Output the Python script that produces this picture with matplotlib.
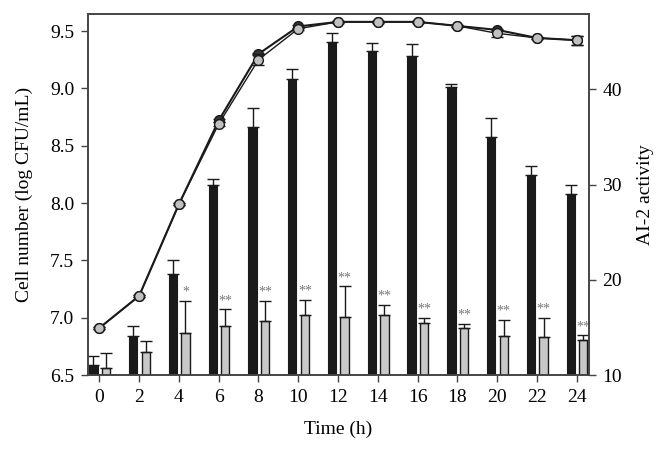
import matplotlib
matplotlib.use("Agg")
import matplotlib.pyplot as plt
import numpy as np

plt.rcParams["font.family"] = ["Liberation Serif", "DejaVu Serif"]

time_h = [0, 2, 4, 6, 8, 10, 12, 14, 16, 18, 20, 22, 24]

# cell numbers (log CFU/mL), two strains
cells_a = [6.91, 7.19, 7.99, 8.72, 9.30, 9.54, 9.58, 9.58, 9.58, 9.545, 9.51, 9.44, 9.42]
cells_a_err = [0.01, 0.01, 0.01, 0.01, 0.01, 0.01, 0.01, 0.01, 0.01, 0.01, 0.01, 0.01, 0.04]
cells_b = [6.91, 7.19, 7.99, 8.69, 9.25, 9.52, 9.58, 9.58, 9.58, 9.545, 9.48, 9.44, 9.42]
cells_b_err = [0.01, 0.01, 0.01, 0.02, 0.05, 0.01, 0.01, 0.01, 0.01, 0.01, 0.03, 0.01, 0.04]

# AI-2 activity
ai2_a = [11.0, 14.1, 20.6, 30.0, 36.0, 41.1, 45.0, 44.0, 43.5, 40.2, 35.0, 31.0, 29.0]
ai2_a_err = [0.95, 1.0, 1.5, 0.6, 2.0, 1.0, 0.9, 0.9, 1.3, 0.4, 2.0, 0.9, 1.0]
ai2_b = [10.7, 12.4, 14.4, 15.1, 15.7, 16.3, 16.1, 16.3, 15.5, 14.9, 14.1, 14.0, 13.7]
ai2_b_err = [1.6, 1.2, 3.4, 1.8, 2.1, 1.6, 3.2, 1.1, 0.5, 0.5, 1.7, 2.0, 0.5]
signif = ["", "", "*", "**", "**", "**", "**", "**", "**", "**", "**", "**", "**"]

dark = "#1a1a1a"
spine_c = "#444444"

fig = plt.figure(figsize=(6.72, 4.54), dpi=100)
ax = fig.add_axes([0.131, 0.174, 0.745, 0.795])
ax2 = ax.twinx()

t = np.array(time_h)
w = 0.42
ax2.bar(t - 0.3, ai2_a, w, bottom=0, color=dark, edgecolor=dark, linewidth=0.8,
        yerr=[np.zeros(len(t)), ai2_a_err], error_kw=dict(ecolor=dark, elinewidth=1.0, capsize=4, capthick=1.0))
ax2.bar(t + 0.33, ai2_b, w, color="#c8c8c8", edgecolor=dark, linewidth=1.0,
        yerr=[np.zeros(len(t)), ai2_b_err], error_kw=dict(ecolor=dark, elinewidth=1.0, capsize=4, capthick=1.0))
for x, v, e, s in zip(t, ai2_b, ai2_b_err, signif):
    if s:
        ax2.text(x + 0.33, v + e + 0.2, s, ha="center", va="bottom", fontsize=10, color="#777777")

ax.errorbar(t, cells_a, yerr=cells_a_err, color=dark, lw=1.5, marker="o", ms=7,
            mfc="#333333", mec=dark, capsize=4, elinewidth=1.0, zorder=3)
ax.errorbar(t, cells_b, yerr=cells_b_err, color=dark, lw=1.0, marker="o", ms=7,
            mfc="#c0c0c0", mec=dark, mew=1.0, capsize=4, elinewidth=1.0, zorder=4)

ax.set_zorder(ax2.get_zorder() + 1)
ax.patch.set_visible(False)

ax.set_xlim(-0.57, 24.6)
ax.set_ylim(6.5, 9.648)
ax2.set_ylim(10, 47.9)
ax.set_xticks(time_h)
ax.set_yticks([6.5, 7.0, 7.5, 8.0, 8.5, 9.0, 9.5])
ax.set_yticklabels(["6.5", "7.0", "7.5", "8.0", "8.5", "9.0", "9.5"])
ax2.set_yticks([10, 20, 30, 40])

for a in (ax, ax2):
    for sp in a.spines.values():
        sp.set_color(spine_c)
        sp.set_linewidth(1.2)
    a.tick_params(direction="out", length=5, width=1.0, color=spine_c, labelsize=14, pad=5)

ax.set_xlabel("Time (h)", fontsize=14, labelpad=11)
ax.set_ylabel("Cell number (log CFU/mL)", fontsize=14, labelpad=12)
ax2.set_ylabel("AI-2 activity", fontsize=14, labelpad=11)

fig.savefig("out.png", dpi=100)
